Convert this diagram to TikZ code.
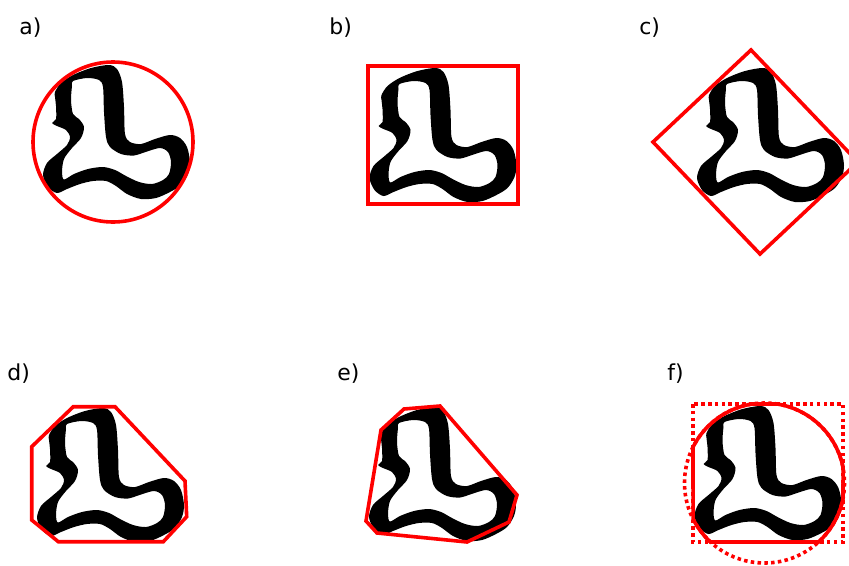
\documentclass[tikz,border=0pt]{standalone}
\usepackage{fontspec}
\setmainfont{DejaVu Sans}
\usepackage{tikz}

% the glyph, drawn around the centre of its enclosing circle
\tikzset{
	glyph/.pic={
		\fill[black, even odd rule]
			plot[smooth cycle] coordinates {
				(-58,-50) (-52,-59) (-40,-67) (-22,-74) (-4,-77) (4,-73) (9,-60)
				(11,-35) (12,-8) (17,0) (28,2) (42,-3) (57,-7) (67,-4) (74,5)
				(77,20) (75,32) (68,43) (57,50) (43,56) (28,57) (14,52) (3,44)
				(-7,39) (-20,39) (-33,42) (-46,47) (-56,51) (-65,45) (-70,33)
				(-66,21) (-56,12) (-46,3) (-43,-5) (-47,-12) (-56,-16) (-61,-19)
				(-57,-23) (-57,-36) (-58,-45)}
			plot[smooth cycle] coordinates {
				(-40,-61) (-26,-64) (-14,-62) (-10,-55) (-9,-30) (-7,-5) (-3,5)
				(8,12) (21,13.5) (34,9.5) (47,6) (55,10) (58,20) (56,32) (50,38)
				(39,42) (26,40) (13,34) (2,28) (-10,25) (-25,27) (-39,32)
				(-49,37.5) (-51,30) (-49,17) (-41,6) (-32,-4) (-29,-15) (-34,-23)
				(-40,-28) (-42,-42) (-41,-56)};
	}
}

\begin{document}
\begin{tikzpicture}
	[x=0.02cm, y=-0.02cm,
	 hull/.style={red, line width=0.072cm, line join=miter},
	 dotted hull/.style={hull, dash pattern=on 0.07cm off 0.066cm},
	 panel label/.style={anchor=base west, inner sep=0pt, font=\fontsize{12.5}{15}\selectfont}]
	\useasboundingbox (0,0) rectangle (849,565);

	\foreach \name/\x/\y in {a/19/34, b/329/34, c/639/34, d/7/380, e/337/380, f/667/380}
		\node[panel label] (label \name) at (\x,\y) {\name)};

	\foreach \x/\y in {113/142, 439.5/145, 767/145, 107/485, 439/484, 764.5/483}
		\pic at (\x,\y) {glyph};

	% a) enclosing circle
	\draw[hull] (113,142) circle (80);

	% b) upright box
	\draw[hull] (368,66) rectangle (518,204);

	% c) rotated box
	\draw[hull] (751,50) -- (653,142) -- (760,254) -- (858,162) -- cycle;

	% d) coarse hull
	\draw[hull] (73.3,406.7) -- (115,406.7) -- (185,481) -- (186.7,516.7)
		-- (163.3,541.7) -- (58.3,541.7) -- (31.7,520) -- (31.7,446.7) -- cycle;

	% e) convex hull
	\draw[hull] (381,430) -- (404,409) -- (440,406) -- (517,495) -- (509,522)
		-- (467,542) -- (377,533) -- (366,521) -- cycle;

	% f) box and circle, and where they overlap
	\begin{scope}[shift={(764.5,483)}]
		\draw[dotted hull] (-71.5,-79) rectangle (78.5,59);
		\draw[dotted hull] (0,0) circle (80);
		\draw[hull] (12.6,-79) arc[start angle=-81, end angle=-11.1, radius=80]
			-- (78.5,15.4) arc[start angle=11.1, end angle=47.5, radius=80]
			-- (-54,59) arc[start angle=132.5, end angle=153.3, radius=80]
			-- (-71.5,-35.9) arc[start angle=206.7, end angle=261, radius=80]
			-- cycle;
	\end{scope}
\end{tikzpicture}
\end{document}
